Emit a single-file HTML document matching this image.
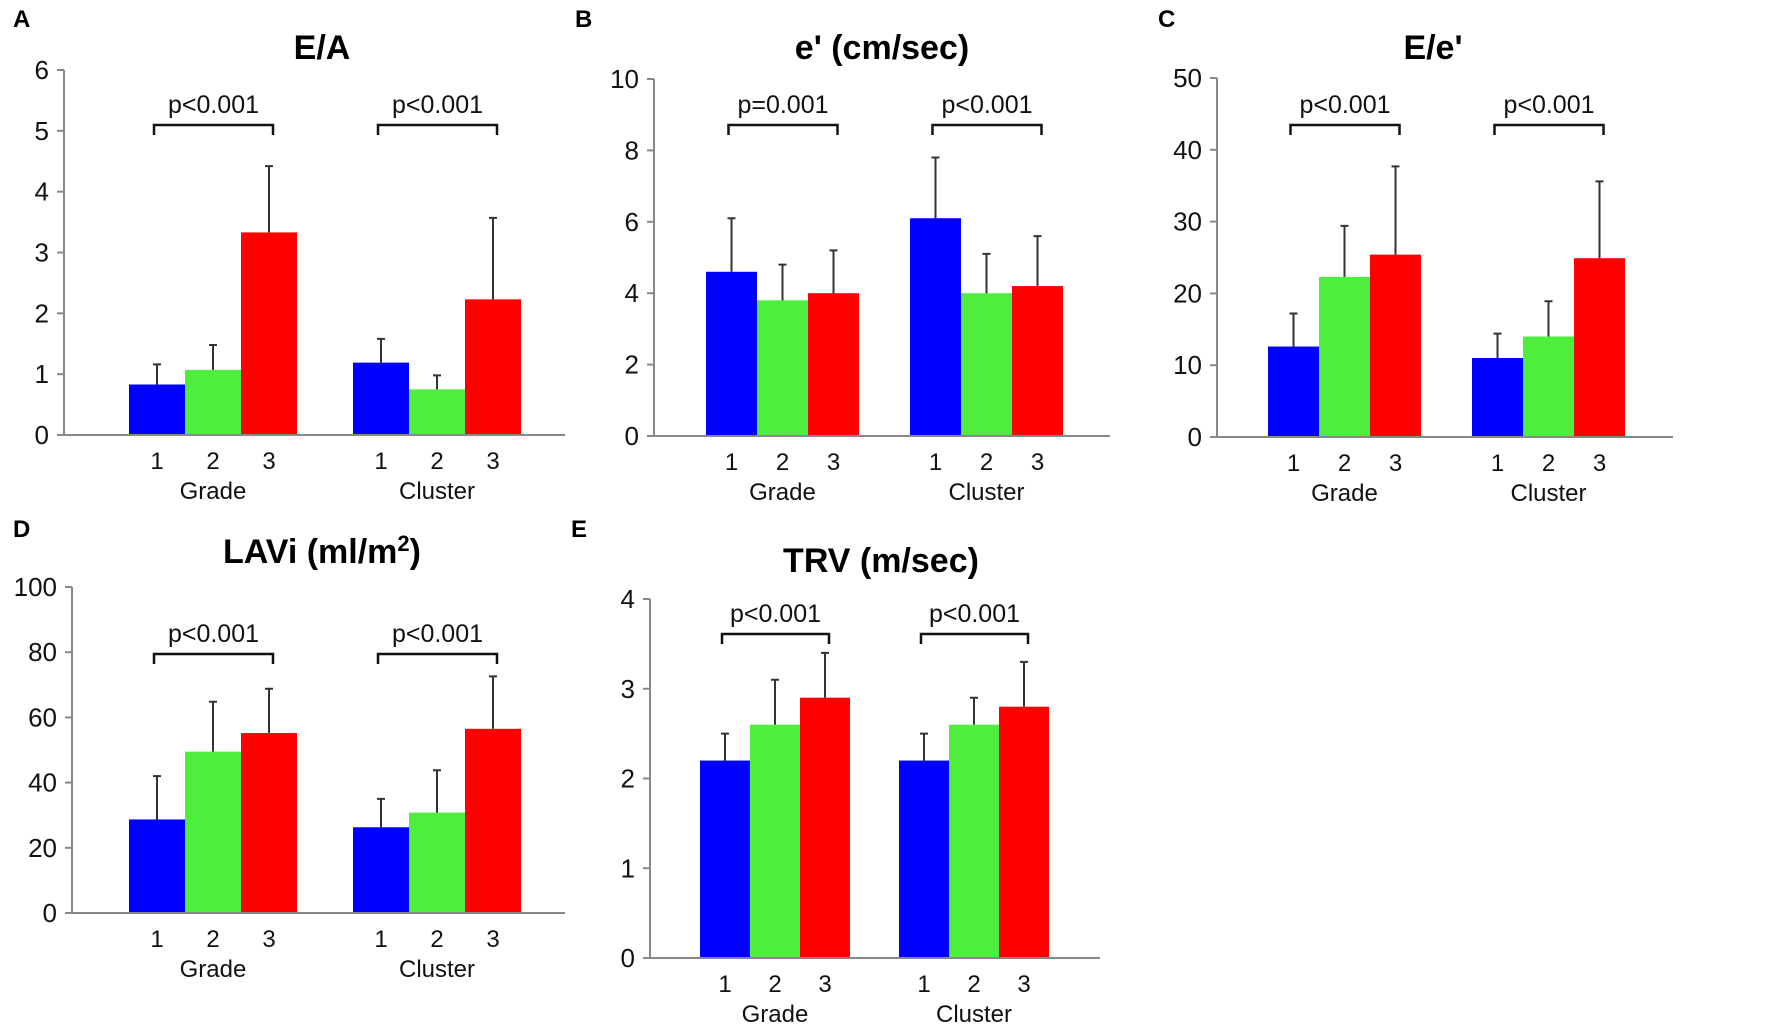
<!DOCTYPE html>
<html><head><meta charset="utf-8"><style>
html,body{margin:0;padding:0;background:#fff;}
svg{display:block;font-family:"Liberation Sans",Arial,sans-serif;}
</style></head><body>
<svg id="fig" width="1772" height="1034" viewBox="0 0 1772 1034"></svg>
<script>
const groups = ["Grade","Cluster"];
const cats = ["1","2","3"];
const colors = ["#0000ff","#4def3c","#ff0000"];
// Panel A E/A
const aMeans = [0.83,1.07,3.33,1.19,0.75,2.23];
const aUpper = [1.16,1.48,4.42,1.58,0.98,3.57];
const aTicks = [0,1,2,3,4,5,6];
const aP = ["p<0.001","p<0.001"];
// Panel B e'
const bMeans = [4.6,3.8,4.0,6.1,4.0,4.2];
const bUpper = [6.1,4.8,5.2,7.8,5.1,5.6];
const bTicks = [0,2,4,6,8,10];
const bP = ["p=0.001","p<0.001"];
// Panel C E/e'
const cMeans = [12.6,22.3,25.4,11.0,14.0,24.9];
const cUpper = [17.2,29.4,37.7,14.4,18.9,35.6];
const cTicks = [0,10,20,30,40,50];
const cP = ["p<0.001","p<0.001"];
// Panel D LAVi
const dMeans = [28.7,49.5,55.2,26.3,30.8,56.5];
const dUpper = [42,64.8,68.8,35,43.8,72.6];
const dTicks = [0,20,40,60,80,100];
const dP = ["p<0.001","p<0.001"];
// Panel E TRV
const eMeans = [2.2,2.6,2.9,2.2,2.6,2.8];
const eUpper = [2.5,3.1,3.4,2.5,2.9,3.3];
const eTicks = [0,1,2,3,4];
const eP = ["p<0.001","p<0.001"];

const NS="http://www.w3.org/2000/svg";
const svg=document.getElementById('fig');
function mk(tag,attrs,parent,text){const e=document.createElementNS(NS,tag);for(const k in attrs)e.setAttribute(k,attrs[k]);if(text!==undefined)e.textContent=text;(parent||svg).appendChild(e);return e;}

function panel(cfg){
  const g=mk('g',{});
  
  
  const maxV=cfg.ticks[cfg.ticks.length-1];
  const y=v=>cfg.y0-(v/maxV)*(cfg.y0-cfg.yTop);
  const lbl=mk('text',{x:cfg.lx,y:cfg.ly,'font-size':24,'font-weight':'bold',fill:'#000'},g,cfg.letter);
  
  
  const t=mk('text',{x:cfg.tx,y:cfg.ty,'font-size':34,'font-weight':'bold','text-anchor':'middle',fill:'#000'},g);
  t.innerHTML=cfg.title;
  
  
  // bars
  cfg.means.forEach((m,i)=>{
    const x=cfg.barX[i];
    const r=mk('rect',{x:x,y:y(m),width:cfg.bw,height:cfg.y0-y(m),fill:colors[i%3]},g);
    
    
    const cx=x+cfg.bw/2;
    const eb=mk('path',{d:`M${cx},${y(m)}V${y(cfg.upper[i])}M${cx-4},${y(cfg.upper[i])}H${cx+4}`,stroke:'#333',
      'stroke-width':2,fill:'none'},g);
    
    
  });
  // axes
  const ax=mk('path',{d:`M${cfg.ax},${cfg.yTop}V${cfg.y0}M${cfg.ax-6},${cfg.y0}H${cfg.xEnd}`,stroke:'#888','stroke-width':2,fill:'none'},g);
  
  
  cfg.ticks.forEach(v=>{
    mk('path',{d:`M${cfg.ax-7},${y(v)}H${cfg.ax}`,stroke:'#888','stroke-width':2},g);
    const tl=mk('text',{x:cfg.ax-15,y:y(v)+9,'font-size':26,'text-anchor':'end',fill:'#111'},g,String(v));
    
    
  });
  // categories & group labels
  cfg.means.forEach((m,i)=>{
    const cx=cfg.barX[i]+cfg.bw/2;
    const c=mk('text',{x:cx,y:cfg.y0+34,'font-size':24,'text-anchor':'middle',fill:'#111'},g,cats[i%3]);
    
    
  });
  groups.forEach((gn,k)=>{
    const cx=cfg.barX[k*3+1]+cfg.bw/2;
    const gl=mk('text',{x:cx,y:cfg.y0+64,'font-size':24,'text-anchor':'middle',fill:'#111'},g,gn);
    
    
    const x1=cfg.barX[k*3]+cfg.bw/2-3, x2=cfg.barX[k*3+2]+cfg.bw/2+4;
    const br=mk('path',{d:`M${x1},${cfg.by+10}V${cfg.by}H${x2}V${cfg.by+10}`,stroke:'#111','stroke-width':2.5,fill:'none'},g);
    
    
    const pt=mk('text',{x:(x1+x2)/2,y:cfg.by-12,'font-size':25,'text-anchor':'middle',fill:'#111'},g,cfg.p[k]);
    
    
  });
}
function bx(a,w,b){return [a,a+w,a+2*w,b,b+w,b+2*w];}
panel({id:'a',letter:'A',lx:13,ly:27,title:'E/A',tx:322,ty:59,ax:64,yTop:70,y0:435,xEnd:565,bw:56,barX:bx(129,56,353),means:aMeans,upper:aUpper,ticks:aTicks,p:aP,by:125});
panel({id:'b',letter:'B',lx:575,ly:27,title:"e' (cm/sec)",tx:882,ty:59,ax:654,yTop:79,y0:436,xEnd:1110,bw:51,barX:bx(706,51,910),means:bMeans,upper:bUpper,ticks:bTicks,p:bP,by:125});
panel({id:'c',letter:'C',lx:1158,ly:27,title:"E/e'",tx:1433,ty:59,ax:1217,yTop:78,y0:437,xEnd:1673,bw:51,barX:bx(1268,51,1472),means:cMeans,upper:cUpper,ticks:cTicks,p:cP,by:125});
panel({id:'d',letter:'D',lx:13,ly:537,title:'LAVi (ml/m<tspan font-size="22" dy="-12">2</tspan><tspan dy="12">)</tspan>',tx:322,ty:563,ax:72,yTop:587,y0:913,xEnd:565,bw:56,barX:bx(129,56,353),means:dMeans,upper:dUpper,ticks:dTicks,p:dP,by:654});
panel({id:'e',letter:'E',lx:571,ly:537,title:'TRV (m/sec)',tx:881,ty:572,ax:650,yTop:599,y0:958,xEnd:1100,bw:50,barX:bx(700,50,899),means:eMeans,upper:eUpper,ticks:eTicks,p:eP,by:634});
</script>
</body></html>
